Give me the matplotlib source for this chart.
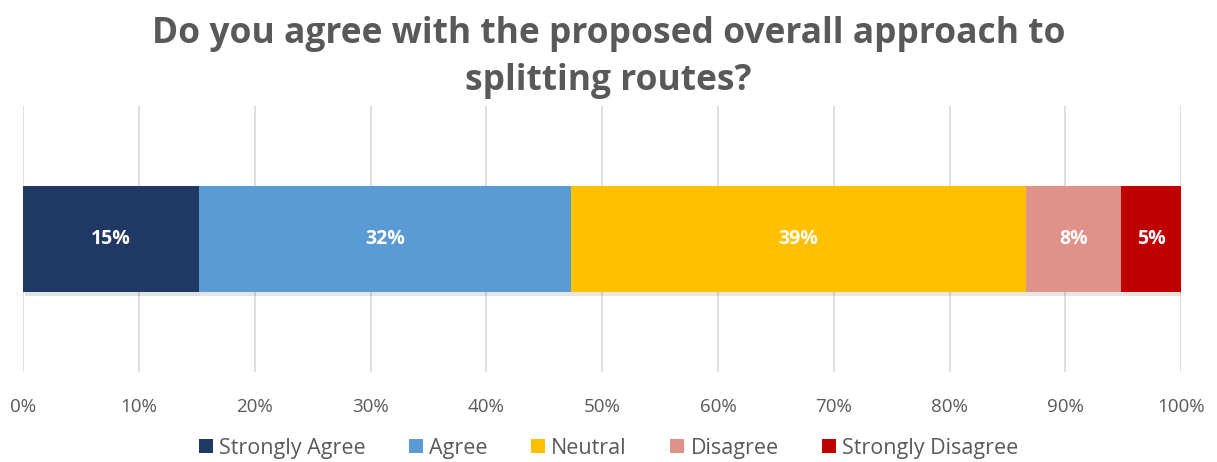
import matplotlib
matplotlib.use("Agg")
import matplotlib.pyplot as plt
import matplotlib.patheffects as pe
from matplotlib.patches import Patch

plt.rcParams["font.family"] = ["Open Sans", "DejaVu Sans"]

categories = ["Strongly Agree", "Agree", "Neutral", "Disagree", "Strongly Disagree"]
values = [15.2, 32.1, 39.3, 8.2, 5.2]
labels = ["15%", "32%", "39%", "8%", "5%"]
colors = ["#203864", "#5b9bd5", "#ffc000", "#e0918a", "#c00000"]
ticks = list(range(0, 101, 10))
TEXT = "#595959"

fig = plt.figure(figsize=(12.17, 4.62), dpi=100)
ax = fig.add_axes([0.019, 0.195, 0.9515, 0.576])

left = 0
for cat, val, lab, col in zip(categories, values, labels, colors):
    b = ax.barh(0, val, left=left, height=0.4, color=col, zorder=3)
    for p in b.patches:
        p.set_path_effects([pe.SimplePatchShadow(offset=(1.5, -2.5), alpha=0.12), pe.Normal()])
    ax.text(left + val / 2, 0, lab, ha="center", va="center", color="white",
            fontsize=14, fontweight="bold", zorder=4)
    left += val

ax.set_xlim(0, 100)
ax.set_ylim(-0.5, 0.5)
ax.set_xticks(ticks)
ax.set_xticklabels([f"{t}%" for t in ticks], fontsize=13.5, color=TEXT)
ax.set_yticks([])
ax.tick_params(axis="x", length=0, pad=19)
ax.grid(axis="x", color="#d9d9d9", linewidth=1.2, zorder=0)
for s in ax.spines.values():
    s.set_visible(False)

fig.suptitle("Do you agree with the proposed overall approach to\nsplitting routes?",
             fontsize=25.5, fontweight="bold", color=TEXT, y=0.965, linespacing=1.4)

handles = [Patch(facecolor=c, label=n) for n, c in zip(categories, colors)]
fig.legend(handles=handles, loc="lower center", bbox_to_anchor=(0.5, -0.035), ncol=5,
           frameon=False, fontsize=15.5, handlelength=0.65, handleheight=0.65,
           handletextpad=0.3, columnspacing=2.0, labelcolor=TEXT)

fig.savefig("out.png", dpi=100)
